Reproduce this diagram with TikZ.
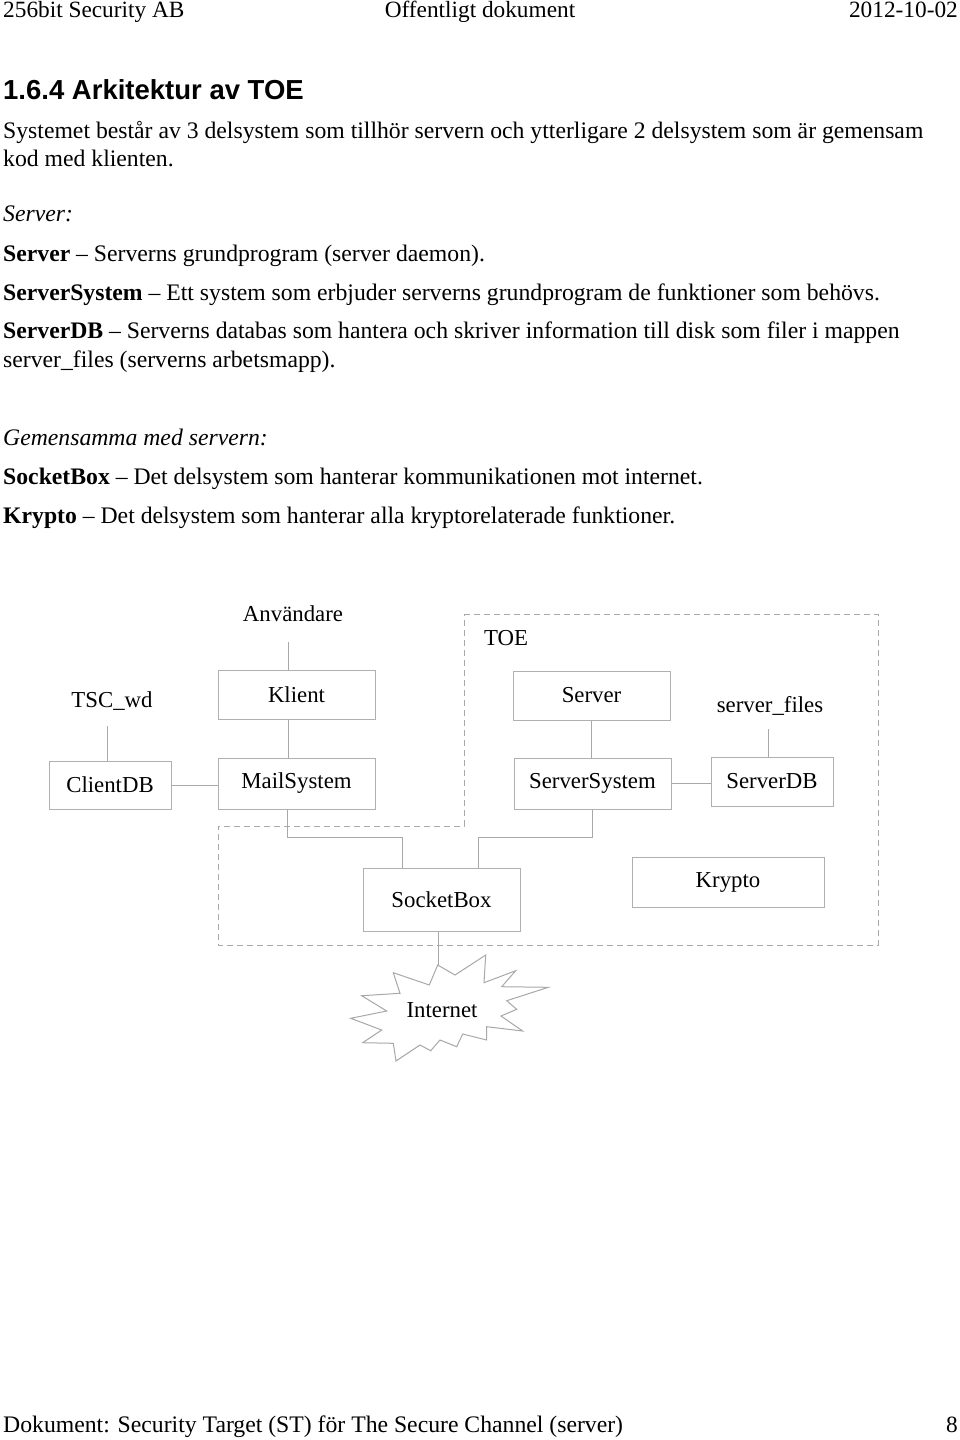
\documentclass[tikz,border=0pt]{standalone}
\usepackage{fontspec}
\setmainfont{Liberation Serif}
\newfontfamily\headfont{Liberation Sans}
\definecolor{linegray}{HTML}{A8A8A8}
\definecolor{boxgray}{HTML}{B0B0B0}
\begin{document}
\begin{tikzpicture}[x=1pt,y=-1pt,
  txt/.style={anchor=west, inner sep=0pt, font=\fontsize{23.7}{28}\selectfont, text height=16pt, text depth=5pt, yshift=-2pt},
  hdr/.style={inner sep=0pt, font=\fontsize{23.3}{28}\selectfont, text height=16pt, text depth=5pt},
  lbl/.style={inner sep=0pt, font=\fontsize{22.8}{27}\selectfont},
  box/.style={draw=boxgray, line width=1pt, inner sep=0pt, font=\fontsize{22.8}{27}\selectfont},
  conn/.style={draw=linegray, line width=1pt},
  toe/.style={draw=linegray, line width=1pt, dash pattern=on 6pt off 4pt}]
\useasboundingbox (0,0) rectangle (960,1440);
% header
\node[hdr, anchor=west] (h1) at (3,12) {256bit Security AB};
\node[hdr] (h2) at (480,12) {Offentligt dokument};
\node[hdr, anchor=east] (h3) at (958,12) {2012-10-02};
% heading
\node[anchor=west, inner sep=0pt, font=\headfont\bfseries\fontsize{27.5}{32}\selectfont] (title) at (3,90) {1.6.4 Arkitektur av TOE};
% body
\node[txt] (t1) at (3,131) {Systemet består av 3 delsystem som tillhör servern och ytterligare 2 delsystem som är gemensam};
\node[txt] (t2) at (3,159) {kod med klienten.};
\node[txt] (t3) at (3,214) {\itshape Server:};
\node[txt] (t4) at (3,254) {\textbf{Server} – Serverns grundprogram (server daemon).};
\node[txt] (t5) at (3,293) {\textbf{ServerSystem} – Ett system som erbjuder serverns grundprogram de funktioner som behövs.};
\node[txt] (t6) at (3,331) {\textbf{ServerDB} – Serverns databas som hantera och skriver information till disk som filer i mappen};
\node[txt] (t7) at (3,360) {server\_files (serverns arbetsmapp).};
\node[txt] (t8) at (3,438) {\itshape Gemensamma med servern:};
\node[txt] (t9) at (3,477) {\textbf{SocketBox} – Det delsystem som hanterar kommunikationen mot internet.};
\node[txt] (t10) at (3,516) {\textbf{Krypto} – Det delsystem som hanterar alla kryptorelaterade funktioner.};
% TOE boundary
\draw[toe] (464,614) -- (878,614) -- (878,945) -- (218,945) -- (218,826) -- (464,826) -- cycle;
% labels
\node[lbl] (anv) at (293,614) {Användare};
\node[lbl] (tsc) at (112,701) {TSC\_wd};
\node[lbl] (toelbl) at (506,638) {TOE};
\node[lbl] (sfiles) at (770,706) {server\_files};
% boxes
\node[box, minimum width=157pt, minimum height=49pt] (klient) at (296.5,694.5) {Klient};
\node[box, minimum width=157pt, minimum height=51pt] (mail) at (296.5,783.5) {MailSystem};
\node[box, minimum width=122pt, minimum height=48pt] (clientdb) at (110,785) {ClientDB};
\node[box, minimum width=157pt, minimum height=49pt] (server) at (591.5,695.5) {Server};
\node[box, minimum width=157pt, minimum height=51pt] (serversys) at (592.5,783.5) {ServerSystem};
\node[box, minimum width=122pt, minimum height=49pt] (serverdb) at (772,781.5) {ServerDB};
\node[box, minimum width=157pt, minimum height=63pt] (socket) at (441.5,899.5) {SocketBox};
\node[box, minimum width=192pt, minimum height=50pt] (krypto) at (728,882) {Krypto};
% helper coordinates
\coordinate (anvend) at (288,642);
\coordinate (tscend) at (107,726);
\coordinate (sfend) at (768,729);
\coordinate (j1) at (402,837);
\coordinate (j2) at (478,837);
\coordinate (netjoin) at (438,965);
% connectors
\draw[conn] (anvend) -- (anvend |- klient.north);
\draw[conn] (klient.south -| anvend) -- (mail.north -| anvend);
\draw[conn] (tscend) -- (tscend |- clientdb.north);
\draw[conn] (clientdb.east) -- (clientdb.east -| mail.west);
\draw[conn] (mail.south -| 287,0) |- (j1) -- (j1 |- socket.north);
\draw[conn] (serversys.south) |- (j2) -- (j2 |- socket.north);
\draw[conn] (server.south) -- (server.south |- serversys.north);
\draw[conn] (serversys.east) -- (serversys.east -| serverdb.west);
\draw[conn] (sfend) -- (sfend |- serverdb.north);
\draw[conn] (socket.south -| netjoin) -- (netjoin);
% Internet explosion
\draw[conn, fill=white] (393.3,972.7) -- (429.3,985) -- (437.7,965) -- (455,975) -- (485.7,955) -- (484,982.7) -- (515.7,970.7) -- (501.7,986.7) -- (548.3,987.3) -- (506.7,1000.7) -- (516.7,1009.3) -- (501,1016) -- (522.7,1031) -- (486.7,1026.7) -- (486.7,1040) -- (462.7,1034) -- (456.7,1046.7) -- (440,1040) -- (430.7,1050.7) -- (420,1045) -- (396,1061) -- (393.3,1043.3) -- (362.7,1042.7) -- (381.7,1030) -- (350.7,1018.3) -- (386.7,1011) -- (361.7,995.7) -- (400,993.3) -- cycle;
\node[lbl] (internet) at (442,1010) {Internet};
% footer
\node[hdr, anchor=west, font=\fontsize{23.7}{28}\selectfont] (f1) at (3,1427) {Dokument: Security Target (ST) för The Secure Channel (server)};
\node[hdr, anchor=east] (f2) at (958,1427) {8};
\end{tikzpicture}
\end{document}
